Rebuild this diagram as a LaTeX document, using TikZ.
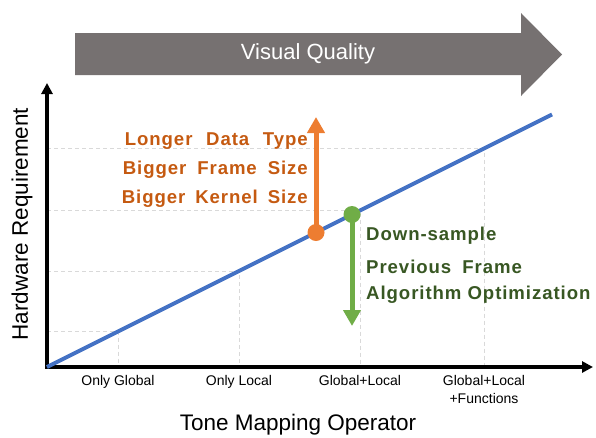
\documentclass[tikz,border=0pt]{standalone}
\usepackage{fontspec}
\setmainfont{Liberation Sans}
\newfontfamily\spacedbold{Liberation Sans Bold}[LetterSpace=5]
\usetikzlibrary{arrows.meta}

\definecolor{qualitygray}{HTML}{767171}
\definecolor{trendblue}{HTML}{4472C4}
\definecolor{uporange}{HTML}{ED7D31}
\definecolor{uptext}{HTML}{C55A11}
\definecolor{downgreen}{HTML}{70AD47}
\definecolor{downtext}{HTML}{385723}
\definecolor{gridgray}{HTML}{D9D9D9}

\begin{document}
\begin{tikzpicture}[x=1pt,y=-1pt,
  axis/.style={line width=3.5pt, black, line join=miter,
    {Triangle[length=11pt,width=11pt]}-{Triangle[length=11pt,width=11pt]}},
  gridline/.style={gridgray, line width=1pt, dash pattern=on 4pt off 3pt},
  trend/.style={trendblue, line width=4pt},
  dot/.style={circle, inner sep=0pt, minimum size=17pt},
  vbar/.style={line width=5pt, -{Triangle[length=16pt,width=17pt]}},
  ticklabel/.style={anchor=north, inner sep=0pt, align=center,
    font=\fontsize{14}{18}\selectfont},
  axislabel/.style={inner sep=0pt, font=\fontsize{22.5}{26}\selectfont},
  uplabel/.style={anchor=east, inner sep=0pt, text=uptext,
    font=\spacedbold\fontsize{18.6}{20}\selectfont},
  downlabel/.style={anchor=west, inner sep=0pt, text=downtext,
    font=\spacedbold\fontsize{18.6}{20}\selectfont}
]
\useasboundingbox (0,0) rectangle (596,437);

% banner arrow for visual quality
\fill[qualitygray] (75,33) -- (521,33) -- (521,13) -- (562,54.5)
  -- (521,96) -- (521,75) -- (75,75) -- cycle;
\node[text=white, inner sep=0pt, font=\fontsize{22}{26}\selectfont]
  (quality) at (308,54) {Visual Quality};

% reference points
\coordinate (O) at (47,367);
\coordinate (ytop) at (47,83);
\coordinate (xend) at (593,367);
\coordinate (lineend) at (552,114.5);
\coordinate (g1) at (118,331.5);
\coordinate (g2) at (239,271);
\coordinate (g3) at (360,210.5);
\coordinate (g4) at (484,148.5);

% dashed guides from each operator class to its requirement level
\foreach \g in {g1,g2,g3,g4}
  \draw[gridline] (\g -| O) -- (\g) -- (\g |- O);

% axes
\draw[axis] (ytop) -- (O) -- (xend);

% requirement trend
\draw[trend] (O) -- (lineend);

% operator classes
\node[ticklabel] (t1) at (118,375) {Only Global};
\node[ticklabel] (t2) at (239,375) {Only Local};
\node[ticklabel] (t3) at (360,375) {Global+Local};
\node[ticklabel] (t4) at (484,375) {Global+Local\\+Functions};

\node[axislabel] (xlab) at (298,425) {Tone Mapping Operator};
\node[axislabel, rotate=90] (ylab) at (22,224) {Hardware Requirement};

% raising the requirement
\coordinate (uptip) at (316,117);
\draw[vbar, uporange] (316,232.5) -- (uptip);
\node[dot, fill=uporange] (updot) at (316,232.5) {};
\node[uplabel] (u1) at (308,141) {\makebox[183pt][s]{Longer Data Type}};
\node[uplabel] (u2) at (308,170) {\makebox[185pt][s]{Bigger Frame Size}};
\node[uplabel] (u3) at (308,199) {\makebox[186pt][s]{Bigger Kernel Size}};

% lowering the requirement
\coordinate (downtip) at (352,326);
\draw[vbar, downgreen] (352,214.5) -- (downtip);
\node[dot, fill=downgreen] (downdot) at (352,214.5) {};
\node[downlabel] (d1) at (366,236) {Down-sample};
\node[downlabel] (d2) at (366,267) {Previous\hspace{5pt} Frame};
\node[downlabel] (d3) at (366,295) {Algorithm Optimization};
\end{tikzpicture}
\end{document}
